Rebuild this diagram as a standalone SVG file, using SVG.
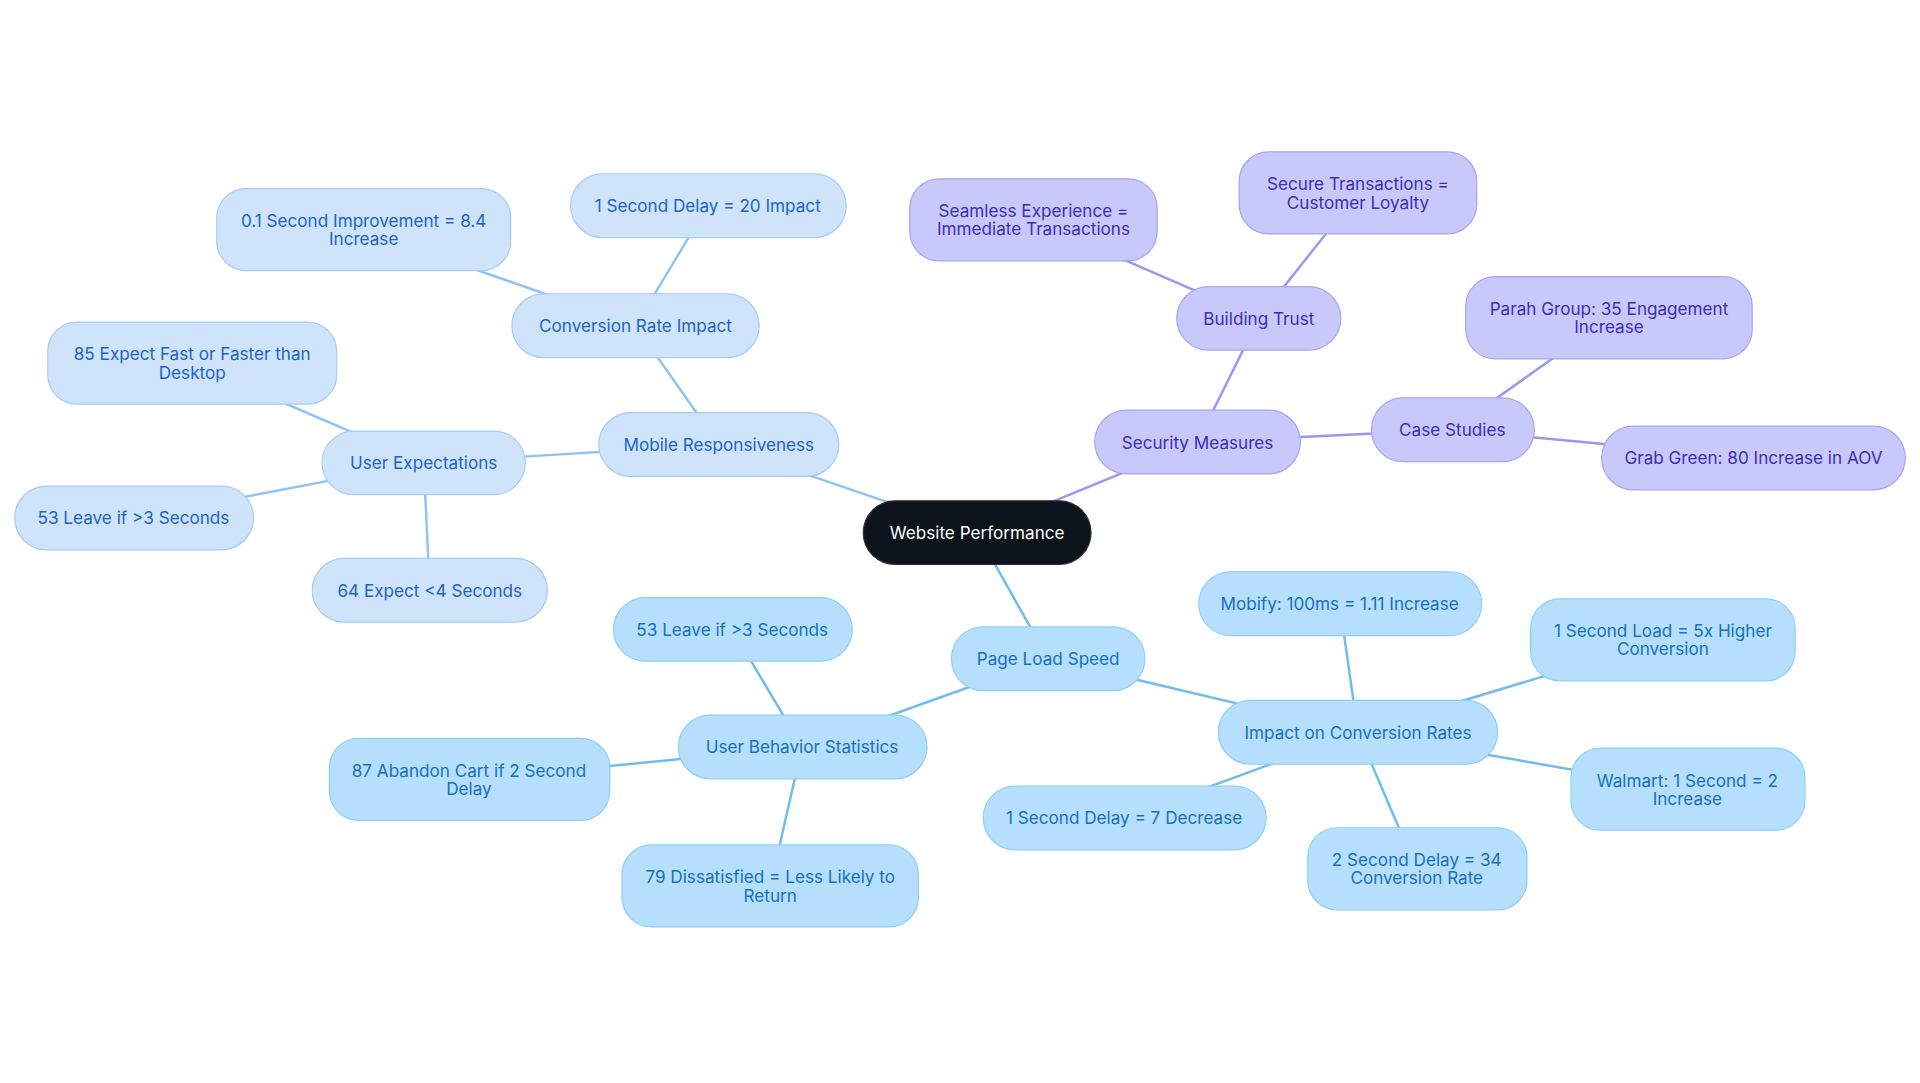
<svg xmlns="http://www.w3.org/2000/svg" width="1920" height="1083" viewBox="0 0 1920 1083">
<style>
text{font-family:Inter,"Noto Sans",sans-serif;font-size:14px;text-anchor:middle;dominant-baseline:central}
.a rect{fill:#cfe3fb;stroke:#a6cbf5;stroke-width:1}.a text{fill:#1b65c8}
.b rect{fill:#b6dffd;stroke:#8ccffb;stroke-width:1}.b text{fill:#1670c0}
.c rect{fill:#c9c8fb;stroke:#a7a4f4;stroke-width:1}.c text{fill:#3a2fb8}
.la{stroke:#90c2f5;stroke-width:2}.lb{stroke:#6fbbf0;stroke-width:2}.lc{stroke:#9b96f0;stroke-width:2}
</style>
<rect width="1920" height="1083" fill="#fff"/>
<g transform="scale(1.2245)">
<g id="connectors">
<line class="la" x1="798" y1="435" x2="587" y2="363"/>
<line class="la" x1="587" y1="363" x2="519" y2="266"/>
<line class="la" x1="519" y1="266" x2="578" y2="168"/>
<line class="la" x1="519" y1="266" x2="297" y2="188"/>
<line class="la" x1="587" y1="363" x2="346" y2="378"/>
<line class="la" x1="346" y1="378" x2="157" y2="297"/>
<line class="la" x1="346" y1="378" x2="109" y2="423"/>
<line class="la" x1="346" y1="378" x2="351" y2="482"/>
<line class="lc" x1="798" y1="435" x2="978" y2="361"/>
<line class="lc" x1="978" y1="361" x2="1028" y2="260"/>
<line class="lc" x1="1028" y1="260" x2="844" y2="180"/>
<line class="lc" x1="1028" y1="260" x2="1109" y2="158"/>
<line class="lc" x1="978" y1="361" x2="1186" y2="351"/>
<line class="lc" x1="1186" y1="351" x2="1314" y2="260"/>
<line class="lc" x1="1186" y1="351" x2="1432" y2="374"/>
<line class="lb" x1="798" y1="435" x2="856" y2="538"/>
<line class="lb" x1="856" y1="538" x2="655" y2="610"/>
<line class="lb" x1="655" y1="610" x2="598" y2="514"/>
<line class="lb" x1="655" y1="610" x2="383" y2="637"/>
<line class="lb" x1="655" y1="610" x2="629" y2="724"/>
<line class="lb" x1="856" y1="538" x2="1109" y2="598"/>
<line class="lb" x1="1109" y1="598" x2="1094" y2="493"/>
<line class="lb" x1="1109" y1="598" x2="1358" y2="523"/>
<line class="lb" x1="1109" y1="598" x2="1378" y2="645"/>
<line class="lb" x1="1109" y1="598" x2="1157" y2="710"/>
<line class="lb" x1="1109" y1="598" x2="918" y2="668"/>
</g>
<g id="n0"><rect x="705" y="409" width="186" height="52" rx="26" fill="#0d131c" stroke="#2a2f36"/><text x="798" y="435" fill="#ffffff">Website Performance</text></g>
<g id="n1" class="a"><rect x="489" y="337" width="196" height="52" rx="26"/><text x="587" y="363">Mobile Responsiveness</text></g>
<g id="n2" class="a"><rect x="418" y="240" width="202" height="52" rx="26"/><text x="519" y="266">Conversion Rate Impact</text></g>
<g id="n3" class="a"><rect x="466" y="142" width="225" height="52" rx="26"/><text x="578" y="168">1 Second Delay = 20 Impact</text></g>
<g id="n4" class="a"><rect x="177" y="154" width="240" height="67" rx="24"/><text x="297" y="180">0.1 Second Improvement = 8.4</text><text x="297" y="195">Increase</text></g>
<g id="n5" class="a"><rect x="263" y="352" width="166" height="52" rx="26"/><text x="346" y="378">User Expectations</text></g>
<g id="n6" class="a"><rect x="39" y="263" width="236" height="67" rx="24"/><text x="157" y="289">85 Expect Fast or Faster than</text><text x="157" y="304">Desktop</text></g>
<g id="n7" class="a"><rect x="12" y="397" width="195" height="52" rx="26"/><text x="109" y="423">53 Leave if &gt;3 Seconds</text></g>
<g id="n8" class="a"><rect x="255" y="456" width="192" height="52" rx="26"/><text x="351" y="482">64 Expect &lt;4 Seconds</text></g>
<g id="n9" class="c"><rect x="894" y="335" width="168" height="52" rx="26"/><text x="978" y="361">Security Measures</text></g>
<g id="n10" class="c"><rect x="961" y="234" width="134" height="52" rx="26"/><text x="1028" y="260">Building Trust</text></g>
<g id="n11" class="c"><rect x="743" y="146" width="202" height="67" rx="24"/><text x="844" y="172">Seamless Experience =</text><text x="844" y="187">Immediate Transactions</text></g>
<g id="n12" class="c"><rect x="1012" y="124" width="194" height="67" rx="24"/><text x="1109" y="150">Secure Transactions =</text><text x="1109" y="165">Customer Loyalty</text></g>
<g id="n13" class="c"><rect x="1120" y="325" width="133" height="52" rx="26"/><text x="1186" y="351">Case Studies</text></g>
<g id="n14" class="c"><rect x="1197" y="226" width="234" height="67" rx="24"/><text x="1314" y="252">Parah Group: 35 Engagement</text><text x="1314" y="267">Increase</text></g>
<g id="n15" class="c"><rect x="1308" y="348" width="248" height="52" rx="26"/><text x="1432" y="374">Grab Green: 80 Increase in AOV</text></g>
<g id="n16" class="b"><rect x="777" y="512" width="158" height="52" rx="26"/><text x="856" y="538">Page Load Speed</text></g>
<g id="n17" class="b"><rect x="554" y="584" width="203" height="52" rx="26"/><text x="655" y="610">User Behavior Statistics</text></g>
<g id="n18" class="b"><rect x="501" y="488" width="195" height="52" rx="26"/><text x="598" y="514">53 Leave if &gt;3 Seconds</text></g>
<g id="n19" class="b"><rect x="269" y="603" width="229" height="67" rx="24"/><text x="383" y="629">87 Abandon Cart if 2 Second</text><text x="383" y="644">Delay</text></g>
<g id="n20" class="b"><rect x="508" y="690" width="242" height="67" rx="24"/><text x="629" y="716">79 Dissatisfied = Less Likely to</text><text x="629" y="731">Return</text></g>
<g id="n21" class="b"><rect x="995" y="572" width="228" height="52" rx="26"/><text x="1109" y="598">Impact on Conversion Rates</text></g>
<g id="n22" class="b"><rect x="979" y="467" width="231" height="52" rx="26"/><text x="1094" y="493">Mobify: 100ms = 1.11 Increase</text></g>
<g id="n23" class="b"><rect x="1250" y="489" width="216" height="67" rx="24"/><text x="1358" y="515">1 Second Load = 5x Higher</text><text x="1358" y="530">Conversion</text></g>
<g id="n24" class="b"><rect x="1283" y="611" width="191" height="67" rx="24"/><text x="1378" y="637">Walmart: 1 Second = 2</text><text x="1378" y="652">Increase</text></g>
<g id="n25" class="b"><rect x="1068" y="676" width="179" height="67" rx="24"/><text x="1157" y="702">2 Second Delay = 34</text><text x="1157" y="717">Conversion Rate</text></g>
<g id="n26" class="b"><rect x="803" y="642" width="231" height="52" rx="26"/><text x="918" y="668">1 Second Delay = 7 Decrease</text></g>
</g>
</svg>
